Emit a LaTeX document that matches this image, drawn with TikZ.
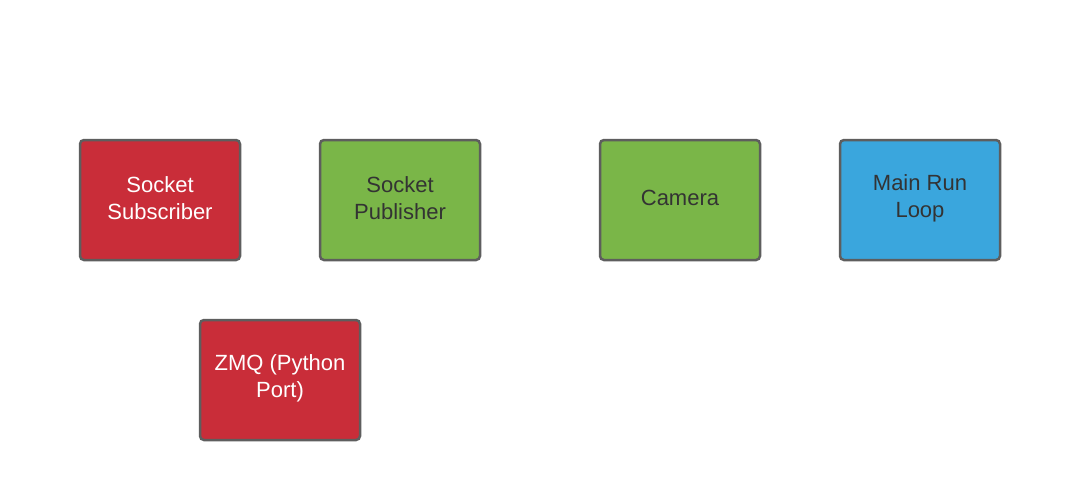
\documentclass[tikz,border=0pt]{standalone}
\usepackage{fontspec}
\setmainfont{Liberation Sans}
\definecolor{bred}{HTML}{C92D39}
\definecolor{bgreen}{HTML}{7AB648}
\definecolor{bblue}{HTML}{3AA6DD}
\definecolor{bline}{HTML}{5E5E5E}
\definecolor{dtext}{HTML}{333333}
\begin{document}
\begin{tikzpicture}[x=1pt,y=-1pt,
  box/.style={draw=bline,line width=2.5pt,rounded corners=4pt,minimum width=160pt,minimum height=120pt,inner sep=0pt,align=center,font=\fontsize{22}{27}\selectfont},
  redbox/.style={box,fill=bred},
  greenbox/.style={box,fill=bgreen},
  bluebox/.style={box,fill=bblue},
  lab/.style={align=center,font=\fontsize{22}{27}\selectfont,inner sep=0pt},
  wlab/.style={lab,text=white},
  dlab/.style={lab,text=dtext}]
\useasboundingbox (0,0) rectangle (1080,480);
\fill[white] (0,0) rectangle (1080,480);
\node[redbox] (sub) at (160,200) {};
\node[greenbox] (pub) at (400,200) {};
\node[greenbox] (cam) at (680,200) {};
\node[bluebox] (main) at (920,200) {};
\node[redbox] (zmq) at (280,380) {};
\node[wlab] (subt) at ([yshift=2pt]sub.center) {Socket\\Subscriber};
\node[dlab] (pubt) at ([yshift=2pt]pub.center) {Socket\\Publisher};
\node[dlab] (camt) at ([yshift=2pt]cam.center) {Camera};
\node[dlab] (maint) at ([yshift=2pt]main.center) {Main Run\\Loop};
\node[wlab] (zmqt) at ([yshift=2pt]zmq.center) {ZMQ (Python\\Port)};
\end{tikzpicture}
\end{document}
